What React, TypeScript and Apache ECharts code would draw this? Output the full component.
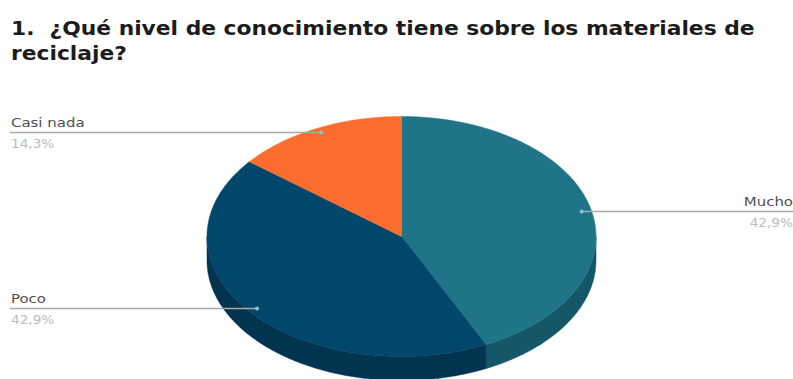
import React, { useEffect, useRef } from "react";
import * as echarts from "echarts";

const titleLines = ["1.  ¿Qué nivel de conocimiento tiene sobre los materiales de", "reciclaje?"];
const categories = ["Mucho", "Poco", "Casi nada"];
const shares = [42.9, 42.9, 14.3];
const shareLabels = ["42,9%", "42,9%", "14,3%"];
const topColors = ["#1f7488", "#01466b", "#fb6d2f"];
const wallColors = ["#145769", "#02344f", "#b84e20"];

// Elliptical disc geometry of the tilted pie
const CX = 401.5;
const CY = 236.5;
const RX = 194.5;
const RY = 120;
const DEPTH = 24;
const ANCHOR = 0.95;

const total = shares.reduce((a, b) => a + b, 0);
const sliceRange = (i: number): [number, number] => {
  const before = shares.slice(0, i).reduce((a, b) => a + b, 0);
  return [(before / total) * 360, ((before + shares[i]) / total) * 360];
};
const rimPoint = (deg: number, f = 1, dy = 0): [number, number] => {
  const t = (deg * Math.PI) / 180;
  return [CX + RX * f * Math.sin(t), CY - RY * f * Math.cos(t) + dy];
};
const arc = (from: number, to: number, dy = 0): [number, number][] => {
  const n = Math.max(2, Math.ceil(Math.abs(to - from) * 2));
  return Array.from({ length: n + 1 }, (_, k) => rimPoint(from + ((to - from) * k) / n, 1, dy));
};

// Where each label's leader line ends and where its text sits
const leaderEnds = [793, 10, 10];
const textAlign = ["right", "left", "left"];
const NAME_STRETCH = 1.15;
const SHARE_STRETCH = 1.05;
const TITLE_STRETCH = 1.147;

const renderSlice = (params: any) => {
  const i = params.dataIndex;
  const [a, b] = sliceRange(i);
  const children: any[] = [];
  const wallFrom = Math.max(a, 90);
  const wallTo = Math.min(b, 270);
  if (wallTo > wallFrom) {
    children.push({
      type: "polygon",
      shape: { points: [...arc(wallFrom, wallTo), ...arc(wallTo, wallFrom, DEPTH)] },
      style: { fill: wallColors[i], stroke: wallColors[i], lineWidth: 0.5 },
    });
  }
  children.push({
    type: "polygon",
    shape: { points: [[CX, CY], ...arc(a, b)] },
    style: { fill: topColors[i], stroke: topColors[i], lineWidth: 0.5 },
  });
  return { type: "group", children };
};

const renderLabel = (params: any) => {
  const i = params.dataIndex;
  const [a, b] = sliceRange(i);
  const [px, py] = rimPoint((a + b) / 2, ANCHOR);
  const y = Math.round(py) - (i === 2 ? 2 : 0);
  const endX = leaderEnds[i];
  const align = textAlign[i];
  return {
    type: "group",
    children: [
      {
        type: "line",
        shape: { x1: endX, y1: y + 0.5, x2: px, y2: y + 0.5 },
        style: { stroke: "#a9a9a9", lineWidth: 1.4 },
      },
      { type: "circle", shape: { cx: px, cy: y + 0.5, r: 2 }, style: { fill: "#8dbdd0" } },
      {
        type: "text",
        x: endX + (align === "left" ? 1 : 0),
        y: y - 10,
        scaleX: NAME_STRETCH,
        style: {
          text: categories[i],
          fill: "#505050",
          font: '13px "DejaVu Sans"',
          align,
          verticalAlign: "middle",
        },
      },
      {
        type: "text",
        x: endX + (align === "left" ? 1 : 0),
        y: y + 12,
        scaleX: SHARE_STRETCH,
        style: {
          text: shareLabels[i],
          fill: "#bcbcbc",
          font: '13px "DejaVu Sans"',
          align,
          verticalAlign: "middle",
        },
      },
    ],
  };
};

export default function App() {
  const ref = useRef<HTMLDivElement>(null);
  useEffect(() => {
    document.body.style.margin = "0";
    const chart = echarts.init(ref.current!, null, { renderer: "svg" });
    chart.setOption({
      animation: false,
      backgroundColor: "#ffffff",
      graphic: titleLines.map((line, k) => ({
        type: "text",
        x: 11,
        y: 28 + k * 25,
        scaleX: TITLE_STRETCH,
        style: {
          text: line,
          fill: "#1c1c1c",
          font: 'bold 19px "DejaVu Sans"',
          align: "left",
          verticalAlign: "middle",
        },
      })),
      series: [
        {
          type: "custom",
          coordinateSystem: "none",
          silent: true,
          z: 2,
          data: shares.map((v, i) => ({ name: categories[i], value: v })),
          renderItem: renderSlice,
        },
        {
          type: "custom",
          coordinateSystem: "none",
          silent: true,
          z: 3,
          data: shares.map((v, i) => ({ name: categories[i], value: v })),
          renderItem: renderLabel,
        },
      ],
    });
    return () => chart.dispose();
  }, []);
  return <div ref={ref} style={{ width: 793, height: 379 }} />;
}
